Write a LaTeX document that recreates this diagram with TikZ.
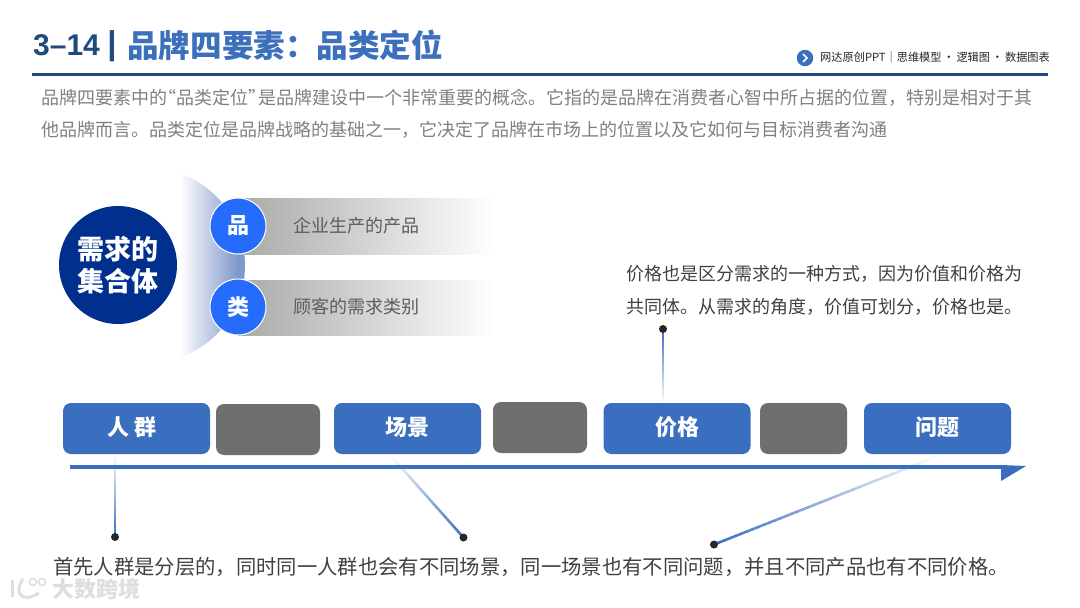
\documentclass[tikz,border=0pt]{standalone}
\usepackage{fontspec}
\setmainfont{Noto Sans CJK SC}
\newfontfamily\latinfont{Liberation Sans}
\usepackage{xcolor}
\usetikzlibrary{arrows.meta,backgrounds,calc,positioning}
\definecolor{Title_Navy}{HTML}{1F4A7E}
\definecolor{Title_Blue}{HTML}{3D70BC}
\definecolor{Box_Blue}{HTML}{3A6FBF}
\definecolor{Box_Gray}{HTML}{6F6F6F}
\definecolor{Core_Blue}{HTML}{002F8E}
\definecolor{Badge_Blue}{HTML}{256CFC}
\definecolor{Arc_Blue}{HTML}{7F99CA}
\definecolor{Bar_Gray}{HTML}{A9A9A7}
\definecolor{Text_Gray}{HTML}{808080}
\definecolor{Text_Dark}{HTML}{404040}
\definecolor{Dot_Black}{HTML}{262626}
\definecolor{Mark_Gray}{HTML}{DEDEDE}
\tikzset{
    bluebox/.style={fill=Box_Blue, rounded corners=8pt, minimum width=147pt, minimum height=51pt,
        text=white, font=\fontsize{22}{26}\selectfont\bfseries, inner sep=0pt, text height=19pt, text depth=5pt},
    graybox/.style={fill=Box_Gray, rounded corners=8pt, minimum height=51pt, inner sep=0pt},
    badge/.style={circle, fill=Badge_Blue, draw=white, line width=1pt, minimum size=56pt, inner sep=0pt,
        text=white, font=\fontsize{22}{26}\selectfont\bfseries},
    bartext/.style={text=Text_Dark!85, font=\fontsize{18}{22}\selectfont, inner sep=0pt, anchor=west},
    enddot/.style={circle, fill=Dot_Black, minimum size=8pt, inner sep=0pt},
}
% narrow quotes for the intro
\newcommand{\openq}{\makebox[9.5pt][r]{“}}
\newcommand{\closeq}{\makebox[9.5pt][l]{”}}
% connector that fades out toward its first end
\newcommand{\fadelink}[2]{%
    \foreach \i in {1,...,40}{%
        \pgfmathsetmacro{\fa}{(\i-1)/40}%
        \pgfmathsetmacro{\fb}{min(1,(\i+0.2)/40)}%
        \pgfmathsetmacro{\fc}{\i*2.5}%
        \draw[line width=2.5pt, Box_Blue!\fc!white] ($(#1)!\fa!(#2)$) -- ($(#1)!\fb!(#2)$);
    }%
}
\begin{document}
\begin{tikzpicture}[x=1pt, y=-1pt, >=Stealth]
    \useasboundingbox (0,0) rectangle (1080,608);

    % Title
    \node[anchor=west, inner sep=0pt, text=Title_Navy, font=\latinfont\fontsize{30}{36}\selectfont\bfseries] (title_num) at (33,45) {3–14};
    \node[inner sep=0pt, text=Title_Navy, font=\latinfont\fontsize{33}{38}\selectfont\bfseries] (title_bar) at (112,46) {|};
    \node[anchor=west, inner sep=0pt, text=Title_Blue, font=\fontsize{31.6}{38}\selectfont\bfseries] (title_main) at (127,45) {品牌四要素：品类定位};
    \draw[line width=3pt, Title_Navy] (32,74.5) -- (1048,74.5);

    % Header tag
    \node[circle, fill=Title_Blue, minimum size=16.5pt, inner sep=0pt] (tag_icon) at (805,58) {};
    \draw[white, line width=1.6pt] (803,54) -- (807,58) -- (803,62);
    \node[anchor=west, inner sep=0pt, text=black!85, font=\fontsize{11.2}{14}\selectfont] (tag_text) at (820,57) {网达原创PPT｜思维模型\,·\,逻辑图\,·\,数据图表};

    % Intro paragraph
    \node[anchor=west, inner sep=0pt, align=left, text=Text_Gray, font=\fontsize{18}{32}\selectfont] (intro) at (41,114) {
        品牌四要素中的\openq 品类定位\closeq 是品牌建设中一个非常重要的概念。它指的是品牌在消费者心智中所占据的位置，特别是相对于其\\
        他品牌而言。品类定位是品牌战略的基础之一，它决定了品牌在市场上的位置以及它如何与目标消费者沟通
    };

    % Crescent behind the badges
    \begin{scope}
        \clip (147.4,265.5) circle (97.6);
        \shade[left color=white, right color=Arc_Blue] (180,165) rectangle (238,365);
        \fill[Arc_Blue] (238,165) rectangle (250,365);
    \end{scope}

    % Gradient bars
    \shade[left color=Bar_Gray, right color=white] (238,198) rectangle (495,254);
    \shade[left color=Bar_Gray, right color=white] (238,280) rectangle (495,335);
    \node[bartext] (bar_pin) at (293,226) {企业生产的产品};
    \node[bartext] (bar_lei) at (293,307) {顾客的需求类别};

    % Core circle and badges
    \node[circle, fill=Core_Blue, minimum size=118pt, inner sep=0pt, align=center, text=white,
        font=\fontsize{27}{32}\selectfont\bfseries] (core) at (118,265) {需求的\\集合体};
    \node[badge] (badge_pin) at (238,226) {品};
    \node[badge] (badge_lei) at (238,307) {类};

    % Price note
    \node[anchor=west, inner sep=0pt, align=left, text=Text_Dark, font=\fontsize{18}{33}\selectfont] (note_price) at (626.5,290.5) {
        价格也是区分需求的一种方式，因为价值和价格为\\
        共同体。从需求的角度，价值可划分，价格也是。
    };

    % Boxes on the line
    \node[bluebox] (box_crowd) at (136.5,428.5) {人 群\hspace{8pt}\mbox{}};
    \node[graybox, minimum width=104pt] (gap_a) at (268,429.5) {};
    \node[bluebox] (box_scene) at (407.5,428.5) {场景};
    \node[graybox, minimum width=94pt] (gap_b) at (540,427.5) {};
    \node[bluebox] (box_price) at (677,428.5) {价格};
    \node[graybox, minimum width=87pt] (gap_c) at (803.5,428.5) {};
    \node[bluebox] (box_issue) at (937.5,428.5) {问题};

    % End dots and connectors
    \node[enddot] (dot_crowd) at (115,537) {};
    \node[enddot] (dot_scene) at (463.5,537.5) {};
    \node[enddot] (dot_price) at (663,329) {};
    \node[enddot] (dot_issue) at (714,544.5) {};
    \coordinate (from_crowd) at (115,456);
    \coordinate (from_scene) at (391,456);
    \coordinate (from_price) at (663,403);
    \coordinate (from_issue) at (938,456);
    \begin{pgfonlayer}{background}
        \fadelink{from_crowd}{dot_crowd}
        \fadelink{from_scene}{dot_scene}
        \fadelink{from_price}{dot_price}
        \fadelink{from_issue}{dot_issue}
    \end{pgfonlayer}

    % Base line with half head
    \draw[line width=4pt, Box_Blue] (70,466.5) -- (1003,466.5);
    \fill[Box_Blue] (1001,465) -- (1026,466) -- (1001,481) -- cycle;

    % Closing sentence
    \node[anchor=west, inner sep=0pt, text=Text_Dark, font=\fontsize{20.33}{24}\selectfont] (closing) at (53,567) {首先人群是分层的，同时同一人群也会有不同场景，同一场景也有不同问题，并且不同产品也有不同价格。};

    % Watermark
    \node[anchor=west, inner sep=0pt, text=Mark_Gray, font=\fontsize{22}{26}\selectfont\bfseries] (mark) at (52,589.5) {大数跨境};
    \draw[Mark_Gray, line width=3pt] (12,580) -- (12,597);
    \draw[Mark_Gray, line width=3pt] (23,579) .. controls (14,590) and (20,605) .. (39,593);
    \draw[Mark_Gray, line width=1.6pt] (33,582) circle (3.5);
    \draw[Mark_Gray, line width=1.6pt] (42,582) circle (3.5);
\end{tikzpicture}
\end{document}
